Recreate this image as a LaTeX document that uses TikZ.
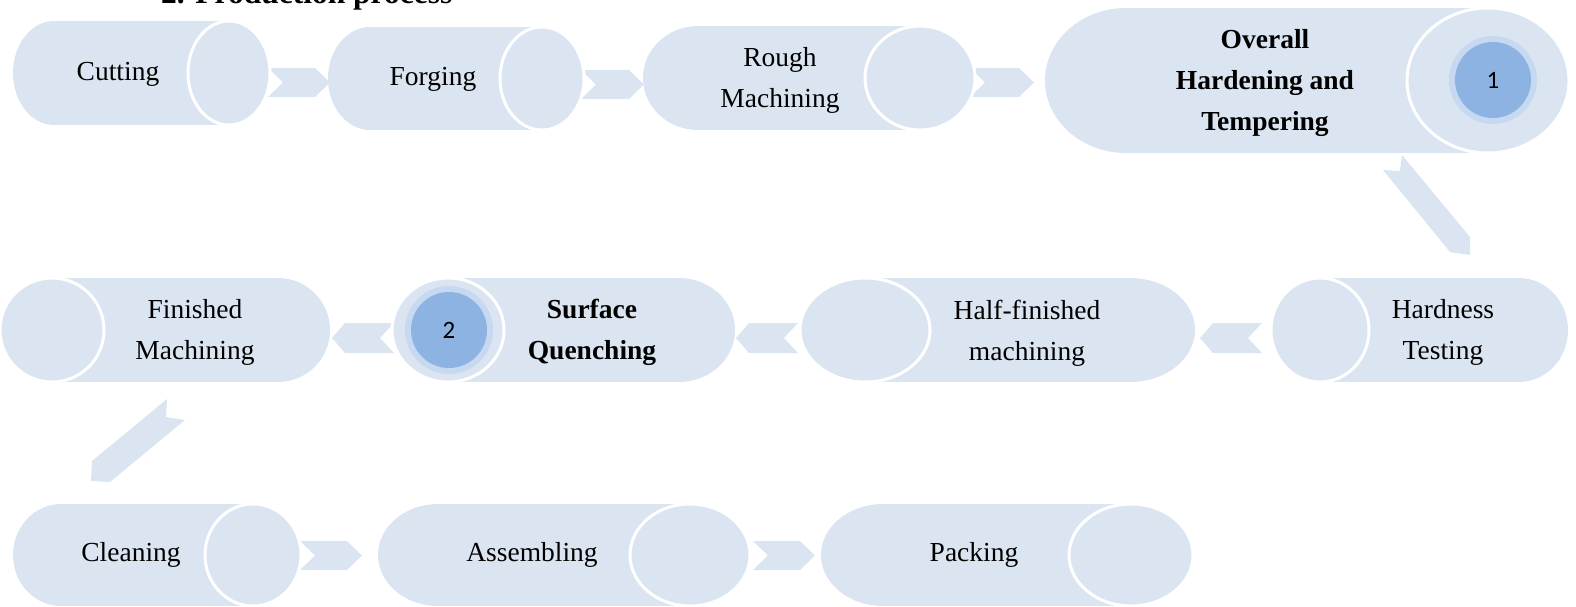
\documentclass[tikz,border=0pt]{standalone}
\usepackage{fontspec}
\setmainfont{Liberation Serif}
\newfontfamily\numfont{Carlito}
\definecolor{cfill}{HTML}{DBE5F1}
\definecolor{chalo}{HTML}{C6D9F1}
\definecolor{cnum}{HTML}{8DB3E2}
\tikzset{
  rim/.style={fill=cfill, draw=white, line width=3pt},
  lbl/.style={font=\fontsize{27.5}{41}\selectfont, align=center, text=black, inner sep=0pt},
  blbl/.style={lbl, font=\fontsize{27.5}{41}\selectfont\bfseries},
  halo/.style={circle, fill=chalo, minimum size=88pt, inner sep=0pt},
  numc/.style={circle, fill=cnum, minimum size=76pt, inner sep=0pt, font=\numfont\fontsize{25}{30}\selectfont},
  chev/.style={fill=cfill}
}
% cylinder with its end ellipse on the right: left end x, ellipse centre x, centre y, rx, ry
\newcommand\cylR[5]{%
  \fill[cfill] ({#1+#4},{#3-#5}) rectangle (#2,{#3+#5});
  \fill[cfill] ({#1+#4},#3) ellipse [x radius=#4pt, y radius=#5pt];
  \filldraw[rim] (#2,#3) ellipse [x radius=#4pt, y radius=#5pt];}
% cylinder with its end ellipse on the left: ellipse centre x, right end x, centre y, rx, ry
\newcommand\cylL[5]{%
  \fill[cfill] (#1,{#3-#5}) rectangle ({#2-#4},{#3+#5});
  \fill[cfill] ({#2-#4},#3) ellipse [x radius=#4pt, y radius=#5pt];
  \filldraw[rim] (#1,#3) ellipse [x radius=#4pt, y radius=#5pt];}
% chevron pointing right: left x, tip x, centre y
\newcommand\chevR[3]{%
  \fill[chev] (#1,{#3-14.5}) -- ({#2-15},{#3-14.5}) -- (#2,#3) -- ({#2-15},{#3+14.5})
    -- (#1,{#3+14.5}) -- ({#1+15},#3) -- cycle;}
% chevron pointing left: tip x, right x, centre y
\newcommand\chevL[3]{%
  \fill[chev] (#2,{#3-15}) -- ({#1+13},{#3-15}) -- (#1,#3) -- ({#1+13},{#3+15})
    -- (#2,{#3+15}) -- ({#2-14},#3) -- cycle;}
\begin{document}
\begin{tikzpicture}[x=1pt,y=-1pt]
\useasboundingbox (0,0) rectangle (1576,607);
% title (cut by the top edge)
\node[anchor=base west, inner sep=0pt, font=\bfseries\fontsize{31.5}{36}\selectfont] (title) at (161,4) {2. Production process};
% ---------- row 1
\chevR{268}{330}{82.5}
\chevR{581}{644}{84.5}
\chevR{970}{1034}{82.5}
\cylR{13}{229}{73}{41}{52}
\cylR{328}{542}{78.5}{42}{51.5}
\cylR{643}{920}{78}{55}{52}
\cylR{1045}{1488}{80.5}{81}{72.5}
\node[lbl]  (cut)   at (118,74)  {Cutting};
\node[lbl]  (forg)  at (433,79)  {Forging};
\node[lbl]  (rough) at (780,80)  {Rough\\Machining};
\node[blbl] (over)  at (1265,83) {Overall\\Hardening and\\Tempering};
\node[halo] (h1) at (1493,80) {};
\node[numc] (n1) at (h1) {1};
% diagonal arrow down to row 2
\fill[chev] (1383,170) -- (1400,171) -- (1402,155) -- (1470,237) -- (1470,255) -- (1450,252) -- cycle;
% ---------- row 2
\chevL{1200}{1262}{338}
\chevL{736}{798}{338}
\chevL{332}{394}{338}
\cylL{1320}{1568}{330}{49}{52}
\cylL{865}{1195}{330}{65}{52}
\cylL{448}{735}{330}{56}{52}
\cylL{52}{330}{330}{52}{52}
\node[lbl]  (hard) at (1443,332) {Hardness\\Testing};
\node[lbl]  (half) at (1027,333) {Half-finished\\machining};
\node[blbl] (surf) at (592,332)  {Surface\\Quenching};
\node[lbl]  (fin)  at (195,332)  {Finished\\Machining};
\node[halo] (h2) at (449,330) {};
\node[numc] (n2) at (h2) {2};
% diagonal arrow down to row 3
\fill[chev] (167,399) -- (166,417) -- (185,420) -- (110,482) -- (91,481) -- (92,461) -- cycle;
% ---------- row 3
\chevR{300}{362}{555.5}
\chevR{753}{815}{555.5}
\cylR{13}{253}{555}{48}{51}
\cylR{378}{690}{555}{60}{51}
\cylR{821}{1131}{555}{62}{51}
\node[lbl] (clean) at (131,555) {Cleaning};
\node[lbl] (assem) at (532,555) {Assembling};
\node[lbl] (pack)  at (974,555) {Packing};
\end{tikzpicture}
\end{document}
